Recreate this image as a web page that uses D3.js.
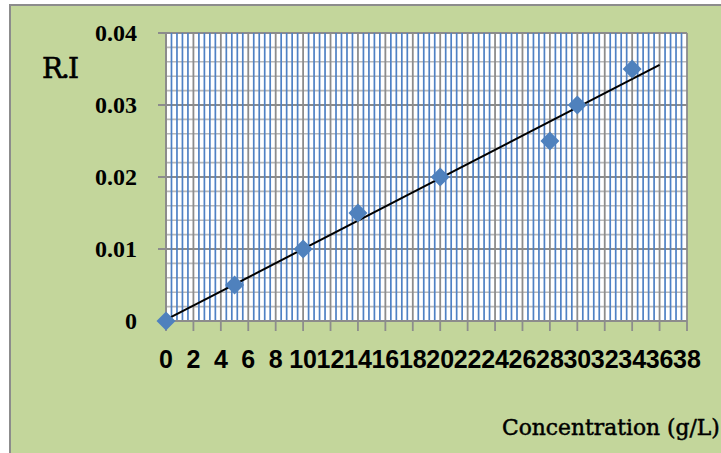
<!DOCTYPE html>
<html>
<head>
<meta charset="utf-8">
<script src="https://cdn.jsdelivr.net/npm/d3@7"></script>
<style>
  html, body { margin: 0; padding: 0; background: #ffffff; }
  #chart { width: 721px; height: 453px; overflow: hidden; }
  .ytick { font-family: "Liberation Serif", "Times New Roman", Times, serif; font-weight: bold; font-size: 24px; }
  .xtick { font-family: "Liberation Sans", Arial, Helvetica, sans-serif; font-weight: bold; font-size: 25px; }
  .title { font-family: "DejaVu Serif", serif; }
</style>
</head>
<body>
<div id="chart"></div>
<script>
  /* DATA */
  const concentration = [0, 5, 10, 14, 20, 28, 30, 34];
  const ri = [0, 0.005, 0.01, 0.015, 0.02, 0.025, 0.03, 0.035];
  const xTicks = [0, 2, 4, 6, 8, 10, 12, 14, 16, 18, 20, 22, 24, 26, 28, 30, 32, 34, 36, 38];
  const yTicks = [0, 0.01, 0.02, 0.03, 0.04];
  const yTickLabels = ["0", "0.01", "0.02", "0.03", "0.04"];

  const width = 721, height = 453;
  const plot = {left: 166, right: 687, top: 33, bottom: 321};

  const svg = d3.select("#chart")
    .append("svg")
    .attr("width", width)
    .attr("height", height);

  /* chart area background + border */
  svg.append("rect")
    .attr("x", 10).attr("y", 5)
    .attr("width", 730).attr("height", 470)
    .attr("fill", "#C3D69B")
    .attr("stroke", "#8c8c8c")
    .attr("stroke-width", 2);

  /* SCALES */
  const xScale = d3.scaleLinear().domain([0, 38]).range([plot.left, plot.right]);
  const yScale = d3.scaleLinear().domain([0, 0.04]).range([plot.bottom, plot.top]);

  svg.append("rect")
    .attr("x", plot.left).attr("y", plot.top)
    .attr("width", plot.right - plot.left)
    .attr("height", plot.bottom - plot.top)
    .attr("fill", "#ffffff");

  /* GRID */
  const grid = svg.append("g");
  // minor horizontal every 0.002
  const yMinor = d3.range(1, 20).filter(i => i % 5 !== 0).map(i => i * 0.002);
  grid.selectAll(".hminor").data(yMinor).enter().append("line")
    .attr("x1", plot.left).attr("x2", plot.right)
    .attr("y1", d => yScale(d)).attr("y2", d => yScale(d))
    .attr("stroke", "#b8b8b8").attr("stroke-width", 1.6);
  // major horizontal
  grid.selectAll(".hmajor").data(yTicks).enter().append("line")
    .attr("x1", plot.left - 8).attr("x2", plot.right)
    .attr("y1", d => yScale(d)).attr("y2", d => yScale(d))
    .attr("stroke", "#8c8c8c").attr("stroke-width", 1.8);
  // minor vertical every 0.4 (blue)
  const xMinor = d3.range(1, 95).filter(i => i % 5 !== 0).map(i => i * 0.4);
  grid.selectAll(".vminor").data(xMinor).enter().append("line")
    .attr("x1", d => xScale(d)).attr("x2", d => xScale(d))
    .attr("y1", plot.top).attr("y2", plot.bottom)
    .attr("stroke", "#4f81c4").attr("stroke-width", 1.7);
  // major vertical
  grid.selectAll(".vmajor").data(xTicks).enter().append("line")
    .attr("x1", d => xScale(d)).attr("x2", d => xScale(d))
    .attr("y1", plot.top).attr("y2", plot.bottom + 10)
    .attr("stroke", "#8c8c8c").attr("stroke-width", 1.8);

  // axis lines
  svg.append("line")
    .attr("x1", plot.left).attr("x2", plot.right)
    .attr("y1", plot.bottom).attr("y2", plot.bottom)
    .attr("stroke", "#8c8c8c").attr("stroke-width", 2);
  svg.append("line")
    .attr("x1", plot.left).attr("x2", plot.left)
    .attr("y1", plot.top).attr("y2", plot.bottom)
    .attr("stroke", "#8c8c8c").attr("stroke-width", 2);

  /* TICK LABELS */
  svg.selectAll(".ylab").data(yTicks).enter().append("text")
    .attr("class", "ytick")
    .attr("x", 137)
    .attr("y", d => yScale(d) + 7.5)
    .attr("text-anchor", "end")
    .attr("fill", "#000")
    .text((d, i) => yTickLabels[i]);

  svg.selectAll(".xlab").data(xTicks).enter().append("text")
    .attr("class", "xtick")
    .attr("x", d => xScale(d))
    .attr("y", 368)
    .attr("text-anchor", "middle")
    .attr("fill", "#000")
    .text(d => d);

  /* TRENDLINE (least squares through the points) */
  const n = concentration.length;
  const mx = d3.mean(concentration), my = d3.mean(ri);
  let sxy = 0, sxx = 0;
  for (let i = 0; i < n; i++) {
    sxy += (concentration[i] - mx) * (ri[i] - my);
    sxx += (concentration[i] - mx) * (concentration[i] - mx);
  }
  const slope = sxy / sxx, intercept = my - slope * mx;
  svg.append("line")
    .attr("x1", xScale(0)).attr("y1", yScale(intercept))
    .attr("x2", xScale(36)).attr("y2", yScale(intercept + slope * 36))
    .attr("stroke", "#000").attr("stroke-width", 2);

  /* MARKERS */
  const pts = concentration.map((c, i) => ({c: c, r: ri[i]}));
  svg.selectAll(".pt").data(pts).enter().append("path")
    .attr("transform", d => `translate(${xScale(d.c)},${yScale(d.r)})`)
    .attr("d", "M0,-9.5L9.5,0L0,9.5L-9.5,0Z")
    .attr("fill", "#4F81BD");

  /* AXIS TITLES */
  svg.append("text")
    .attr("class", "title")
    .attr("x", 42).attr("y", 78)
    .style("font-size", "28px")
    .attr("letter-spacing", -2)
    .attr("fill", "#000")
    .attr("stroke", "#000").attr("stroke-width", 0.6)
    .text("R.I");

  svg.append("text")
    .attr("class", "title")
    .attr("x", 502).attr("y", 435)
    .style("font-size", "21.8px")
    .attr("fill", "#000")
    .attr("stroke", "#000").attr("stroke-width", 0.5)
    .text("Concentration (g/L)");
</script>
</body>
</html>
